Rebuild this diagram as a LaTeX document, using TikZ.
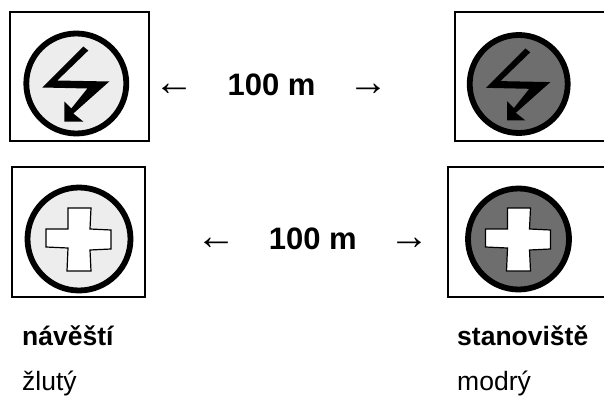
\documentclass[tikz,border=0pt]{standalone}
\usepackage{fontspec}
\setmainfont{Liberation Sans}
\newfontfamily\arrowfont{Liberation Serif}
\definecolor{lightdisc}{HTML}{EDEDED}
\definecolor{darkdisc}{HTML}{6E6E6E}
\tikzset{
  frame/.style={draw=black,line width=2pt},
  disc/.style={circle,draw=black,line width=5.8pt,minimum size=#1,inner sep=0pt},
  bigtext/.style={font=\bfseries\fontsize{31}{36}\selectfont,inner sep=0pt,text=black},
  arrowtext/.style={font=\arrowfont\fontsize{40}{44}\selectfont,inner sep=0pt,text=black},
  smalltext/.style={font=\fontsize{26.5}{30}\selectfont,inner sep=0pt,anchor=base west,text=black},
  boldsmall/.style={smalltext,font=\bfseries\fontsize{26.5}{30}\selectfont}
}
\begin{document}
\begin{tikzpicture}[x=1pt,y=-1pt]
\useasboundingbox (0,0) rectangle (604,396);
\fill[white] (0,0) rectangle (604,396);
% frames
\draw[frame] (10,12.5) rectangle (149,141);
\draw[frame] (12,166.5) rectangle (145,297);
\draw[frame] (604,12.5) -- (455,12.5) -- (455,141) -- (604,141);
\draw[frame] (604,166.5) -- (448,166.5) -- (448,297) -- (604,297);
% discs
\node[disc=100pt,fill=lightdisc] (d1) at (76.3,83.5) {};
\node[disc=103pt,fill=lightdisc] (d2) at (79,239) {};
\node[disc=98pt,fill=darkdisc] (d3) at (518.7,84) {};
\node[disc=101pt,fill=darkdisc] (d4) at (518.5,239) {};
% lightning
\foreach \cx/\cy/\sc in {76.3/83.5/1,518.7/84/0.96}{
\begin{scope}[shift={(\cx,\cy)},scale=\sc]
\fill[black] (7,-37) -- (12,-33) -- (-19,-3) -- (33,-2) -- (-3,30) -- (7,38) -- (-12,38) -- (-12,18) -- (-5,25) -- (11,5) -- (-34,4) -- cycle;
\end{scope}}
% crosses
\foreach \cx/\cy in {79/239,518.5/239}{
\begin{scope}[shift={(\cx,\cy)}]
\draw[black,line width=1.2pt,fill=white] (-11,-31) -- (12,-31) -- (11,-10) -- (32,-9) -- (32,10) -- (11,11) -- (12,32) -- (-12,32) -- (-11,9) -- (-33,8) -- (-33,-10) -- (-11,-10) -- cycle;
\end{scope}}
% texts
\node[bigtext] (t1) at (271.5,85) {100 m};
\node[bigtext] (t2) at (312.8,239) {100 m};
\node[arrowtext] (a1) at (174,90) {←};
\node[arrowtext] (a2) at (368,90) {→};
\node[arrowtext] (a3) at (216,244) {←};
\node[arrowtext] (a4) at (409,244) {→};
\node[boldsmall] (l1) at (22,345) {návěští};
\node[boldsmall] (l2) at (457,345) {stanoviště};
\node[smalltext] (l3) at (22,390) {žlutý};
\node[smalltext] (l4) at (457,390) {modrý};
\end{tikzpicture}
\end{document}
